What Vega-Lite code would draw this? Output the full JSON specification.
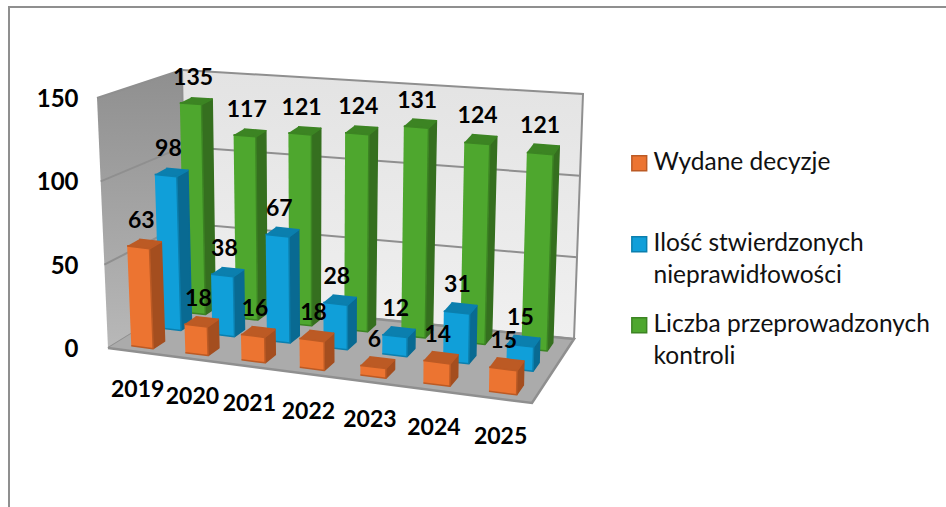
{
"$schema":"https://vega.github.io/schema/vega-lite/v6.json",
"width":950,"height":510,
"autosize":{"type":"none"},
"padding":{"left":9,"top":7,"right":0,"bottom":0},
"background":"white",
"config":{"view":{"stroke":"#8f8f8f","strokeWidth":2},"font":"Lato"},
"data":{"values":[
{"kind":"wall","face":"back"},{"kind":"wall","face":"left"},{"kind":"wall","face":"floor"},
{"kind":"grid","value":50},{"kind":"grid","value":100},
{"kind":"bar","series":"Liczba przeprowadzonych kontroli","year":2019,"value":135},
{"kind":"bar","series":"Liczba przeprowadzonych kontroli","year":2020,"value":117},
{"kind":"bar","series":"Liczba przeprowadzonych kontroli","year":2021,"value":121},
{"kind":"bar","series":"Liczba przeprowadzonych kontroli","year":2022,"value":124},
{"kind":"bar","series":"Liczba przeprowadzonych kontroli","year":2023,"value":131},
{"kind":"bar","series":"Liczba przeprowadzonych kontroli","year":2024,"value":124},
{"kind":"bar","series":"Liczba przeprowadzonych kontroli","year":2025,"value":121},
{"kind":"bar","series":"Ilość stwierdzonych nieprawidłowości","year":2019,"value":98},
{"kind":"bar","series":"Ilość stwierdzonych nieprawidłowości","year":2020,"value":38},
{"kind":"bar","series":"Ilość stwierdzonych nieprawidłowości","year":2021,"value":67},
{"kind":"bar","series":"Ilość stwierdzonych nieprawidłowości","year":2022,"value":28},
{"kind":"bar","series":"Ilość stwierdzonych nieprawidłowości","year":2023,"value":12},
{"kind":"bar","series":"Ilość stwierdzonych nieprawidłowości","year":2024,"value":31},
{"kind":"bar","series":"Ilość stwierdzonych nieprawidłowości","year":2025,"value":15},
{"kind":"bar","series":"Wydane decyzje","year":2019,"value":63},
{"kind":"bar","series":"Wydane decyzje","year":2020,"value":18},
{"kind":"bar","series":"Wydane decyzje","year":2021,"value":16},
{"kind":"bar","series":"Wydane decyzje","year":2022,"value":18},
{"kind":"bar","series":"Wydane decyzje","year":2023,"value":6},
{"kind":"bar","series":"Wydane decyzje","year":2024,"value":14},
{"kind":"bar","series":"Wydane decyzje","year":2025,"value":15}
]},
"transform":[
{"calculate":"(datum.year-2019+0.31)/7","as":"s0"},
{"calculate":"(datum.year-2019+0.72)/7","as":"s1"},
{"calculate":"(datum.year-2019+0.5)/7","as":"sm"},
{"calculate":"datum.s0*1.065/(1+0.065*datum.s0)","as":"u0"},
{"calculate":"datum.s1*1.065/(1+0.065*datum.s1)","as":"u1"},
{"calculate":"datum.sm*1.065/(1+0.065*datum.sm)","as":"um"},
{"calculate":"datum.series=='Wydane decyzje'?0.08:(datum.series=='Liczba przeprowadzonych kontroli'?0.76:0.43)","as":"d0"},
{"calculate":"datum.d0+0.14","as":"d1"},
{"calculate":"datum.value/150","as":"t"},
{"calculate":"datum.kind=='bar'?[['side',0,datum.u1,datum.d0,0],['side',1,datum.u1,datum.d1,0],['side',2,datum.u1,datum.d1,datum.t],['side',3,datum.u1,datum.d0,datum.t],['top',0,datum.u0,datum.d0,datum.t],['top',1,datum.u1,datum.d0,datum.t],['top',2,datum.u1,datum.d1,datum.t],['top',3,datum.u0,datum.d1,datum.t],['front',0,datum.u0,datum.d0,0],['front',1,datum.u1,datum.d0,0],['front',2,datum.u1,datum.d0,datum.t],['front',3,datum.u0,datum.d0,datum.t],['label',0,(datum.u0+datum.u1)/2,(datum.d0+datum.d1)/2,datum.t],['yearlabel',0,datum.um,0,0]]:(datum.kind=='grid'?[['grid',0,0,0,datum.t],['grid',1,0,1,datum.t],['grid',2,1,1,datum.t]]:(datum.face=='back'?[['back',0,0,1,0],['back',1,1,1,0],['back',2,1,1,1],['back',3,0,1,1]]:(datum.face=='left'?[['left',0,0,0,0],['left',1,0,1,0],['left',2,0,1,1],['left',3,0,0,1]]:[['floor',0,0,0,0],['floor',1,1,0,0],['floor',2,1,1,0],['floor',3,0,1,0]])))","as":"verts"},
{"flatten":["verts"],"as":["vt"]},
{"calculate":"datum.vt[0]","as":"f"},
{"calculate":"datum.vt[1]","as":"o"},
{"calculate":"datum.vt[2]","as":"pu"},
{"calculate":"datum.vt[3]","as":"pv"},
{"calculate":"datum.vt[4]","as":"ph"},
{"calculate":"-0.18149*datum.pu+0.11243*datum.pv+1","as":"w"},
{"calculate":"(327.45*datum.pu+98.91*datum.pv+108)/datum.w+((1-datum.pu)*((1-datum.pv)*-11+datum.pv*-4)+datum.pu*((1-datum.pv)*5+datum.pv*9))*datum.ph","as":"X"},
{"calculate":"(-18.14*datum.pu-14.27*datum.pv+348)/datum.w-((1-datum.pu)*((1-datum.pv)*(datum.kind=='bar'?238:250)+datum.pv*230)+datum.pu*((1-datum.pv)*240+datum.pv*245))*datum.ph","as":"PY"},
{"calculate":"(349-datum.PY)*150/249","as":"Y"},
{"calculate":"datum.f=='front'?datum.series:datum.series+'|'+datum.f","as":"key"},
{"calculate":"datum.kind+'-'+datum.series+'-'+datum.year+'-'+datum.f+'-'+datum.value","as":"id"}
],
"encoding":{
"x":{"field":"X","type":"quantitative","scale":{"domain":[9,959],"nice":false,"zero":false},"axis":null},
"y":{"field":"Y","type":"quantitative","scale":{"domain":[-101.2,206.02],"nice":false,"zero":false},
"axis":{"values":[0,50,100,150],"title":null,"grid":false,"domain":false,"ticks":false,"orient":"left","offset":-69,"labelPadding":0,"labelFont":"Lato","labelFontWeight":"bold","labelFontSize":24,"labelColor":"#000000"}}
},
"layer":[
{"transform":[{"filter":"datum.f=='back'"}],"mark":{"type":"line","stroke":"#8f8f8f","strokeWidth":2,"fill":{"gradient":"linear","x1":0,"y1":0,"x2":0,"y2":1,"stops":[{"offset":0,"color":"#E3E3E3"},{"offset":1,"color":"#F0F0F0"}]}},"encoding":{"order":{"field":"o"},"detail":{"field":"id"}}},
{"transform":[{"filter":"datum.f=='left'"}],"mark":{"type":"line","stroke":"#8f8f8f","strokeWidth":2,"fill":{"gradient":"linear","x1":0,"y1":0,"x2":0,"y2":1,"stops":[{"offset":0,"color":"#8F8F8F"},{"offset":1,"color":"#B8B8B8"}]}},"encoding":{"order":{"field":"o"},"detail":{"field":"id"}}},
{"transform":[{"filter":"datum.f=='floor'"}],"mark":{"type":"line","stroke":"#8f8f8f","strokeWidth":2.5,"fill":"#ABABAB"},"encoding":{"order":{"field":"o"},"detail":{"field":"id"}}},
{"transform":[{"filter":"datum.f=='grid'"}],"mark":{"type":"line","stroke":"#8f8f8f","strokeWidth":2},"encoding":{"order":{"field":"o"},"detail":{"field":"id"}}},
{"transform":[{"filter":"datum.kind=='bar'&&(datum.f=='side'||datum.f=='top'||datum.f=='front')"}],
"mark":{"type":"line","strokeWidth":1.5,"strokeJoin":"round"},
"encoding":{"order":{"field":"o"},"detail":{"field":"id"},
"fill":{"field":"key","type":"nominal","scale":{"domain":["Wydane decyzje","Ilość stwierdzonych nieprawidłowości","Liczba przeprowadzonych kontroli","Wydane decyzje|top","Wydane decyzje|side","Ilość stwierdzonych nieprawidłowości|top","Ilość stwierdzonych nieprawidłowości|side","Liczba przeprowadzonych kontroli|top","Liczba przeprowadzonych kontroli|side"],"range":["#EC7431","#109FD9","#4EA72E","#BC5A24","#A44E1F","#0B7FAE","#096A92","#3C8423","#356F1F"]},
"legend":{"values":["Wydane decyzje","Ilość stwierdzonych nieprawidłowości","Liczba przeprowadzonych kontroli"],"title":null,"orient":"none","legendX":618,"legendY":144,"symbolType":"square","symbolSize":220,"symbolStrokeWidth":1.5,"labelFont":"Lato","labelFontSize":24.5,"labelColor":"#111111","labelLimit":330,"labelOffset":2,"gridAlign":"all","rowPadding":24,"labelExpr":"datum.label=='Ilość stwierdzonych nieprawidłowości'?['Ilość stwierdzonych','nieprawidłowości']:(datum.label=='Liczba przeprowadzonych kontroli'?['Liczba przeprowadzonych','kontroli']:datum.label)","labelBaseline":"middle","encode":{"labels":{"update":{"lineHeight":{"value":32}}}}}},
"stroke":{"field":"key","type":"nominal","scale":{"domain":["Wydane decyzje","Ilość stwierdzonych nieprawidłowości","Liczba przeprowadzonych kontroli","Wydane decyzje|top","Wydane decyzje|side","Ilość stwierdzonych nieprawidłowości|top","Ilość stwierdzonych nieprawidłowości|side","Liczba przeprowadzonych kontroli|top","Liczba przeprowadzonych kontroli|side"],"range":["#BC5A24","#0B7FAE","#3C8423","#BC5A24","#A44E1F","#0B7FAE","#096A92","#3C8423","#356F1F"]},"legend":null}}},
{"transform":[{"filter":"datum.f=='label'"}],"mark":{"type":"text","font":"Lato","fontWeight":"bold","fontSize":23,"dx":-3,"dy":-23,"baseline":"middle","color":"#000000"},"encoding":{"text":{"field":"value","type":"quantitative"}}},
{"transform":[{"filter":"datum.f=='yearlabel'&&datum.series=='Wydane decyzje'"}],"mark":{"type":"text","font":"Lato","fontWeight":"bold","fontSize":23,"dx":3,"dy":38.5,"baseline":"middle","color":"#000000"},"encoding":{"text":{"field":"year","type":"nominal"}}}
]
}
